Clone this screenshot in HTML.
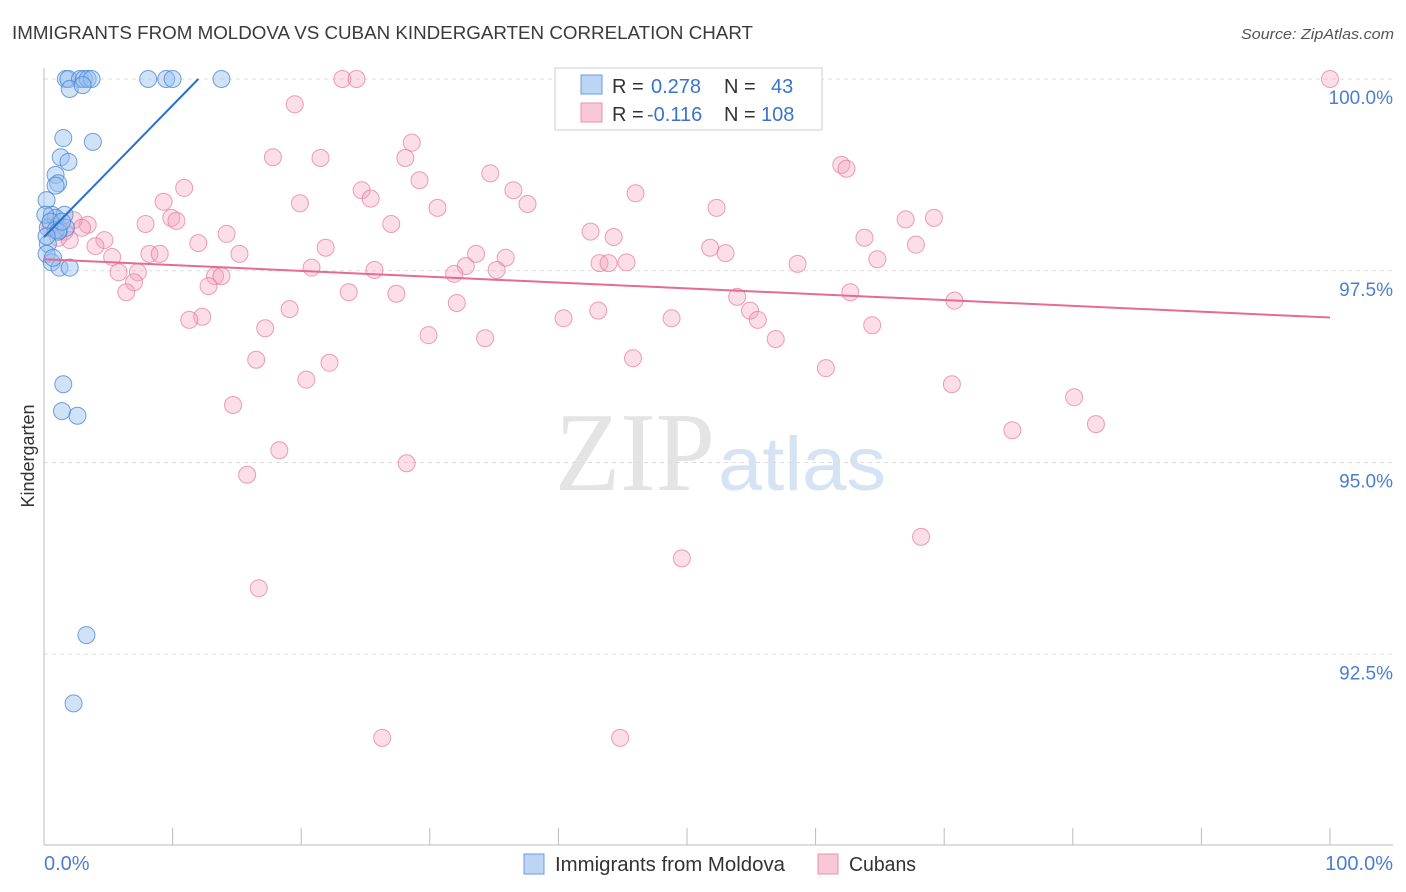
<!DOCTYPE html>
<html><head><meta charset="utf-8"><style>
body{margin:0;background:#fff;font-family:"Liberation Sans",sans-serif;}
svg{display:block}
</style></head><body>
<svg width="1406" height="892">
<text x="12" y="39" font-size="18" fill="#3a3a3a" textLength="741" lengthAdjust="spacingAndGlyphs">IMMIGRANTS FROM MOLDOVA VS CUBAN KINDERGARTEN CORRELATION CHART</text>
<text x="1394" y="39" font-size="15" fill="#555" font-style="italic" text-anchor="end" textLength="153" lengthAdjust="spacingAndGlyphs">Source: ZipAtlas.com</text>
<text x="555" y="490" font-size="112" fill="#e4e4e4" font-family="Liberation Serif,serif" textLength="160" lengthAdjust="spacingAndGlyphs">ZIP</text>
<text x="718" y="490" font-size="76" fill="#d5e3f5" textLength="168" lengthAdjust="spacingAndGlyphs">atlas</text>
<g id="grid"></g>
<g id="pts"></g>
<g id="lines"></g>
<text x="34" y="456" font-size="18" fill="#333" text-anchor="middle" transform="rotate(-90 34 456)">Kindergarten</text>
<text x="44" y="870" font-size="20" fill="#4a7fd0">0.0%</text>
<text x="1393" y="870" font-size="20" fill="#4a7fd0" text-anchor="end">100.0%</text>
<g>
<rect x="555" y="68" width="267" height="62" fill="#fff" stroke="#ccc"/>
<rect x="581" y="75" width="21" height="19" fill="#bcd5f5" stroke="#6b9be0"/>
<rect x="581" y="103" width="21" height="19" fill="#f8c8d6" stroke="#e890ad"/>
<text x="612" y="93" font-size="20" fill="#333">R = <tspan fill="#3a73cf" x="651">0.278</tspan><tspan x="724">N = </tspan><tspan fill="#3a73cf" x="771">43</tspan></text>
<text x="612" y="121" font-size="20" fill="#333">R = <tspan fill="#3a73cf" x="647">-0.116</tspan><tspan x="724">N = </tspan><tspan fill="#3a73cf" x="761">108</tspan></text>
</g>
<g>
<rect x="524" y="854" width="20" height="20" fill="#bcd5f5" stroke="#6b9be0"/>
<text x="555" y="871" font-size="20" fill="#333" textLength="230" lengthAdjust="spacingAndGlyphs">Immigrants from Moldova</text>
<rect x="818" y="854" width="20" height="20" fill="#f8c8d6" stroke="#e890ad"/>
<text x="849" y="871" font-size="20" fill="#333" textLength="67" lengthAdjust="spacingAndGlyphs">Cubans</text>
</g>
</svg>
<script>
const yTicks=[100,97.5,95,92.5];
const yTickLabels=["100.0%","97.5%","95.0%","92.5%"];
const xTicks=[0,10,20,30,40,50,60,70,80,90,100];
const blueX=[1.7,1.9,2.8,3.1,3.4,3.7,8.1,9.5,10,13.8,2,3,1.5,3.8,1.3,1.9,0.9,1.1,0.9,0.2,0.6,1.6,0.9,0.3,1.2,0.3,0.2,0.6,1.2,2,1.5,1.4,2.6,3.3,2.3,0.1,0.5,0.9,1.7,1.1,0.2,0.7,1.4];
const blueY=[100,100,100,100,100,100,100,100,100,100,99.87,99.92,99.23,99.18,98.98,98.92,98.75,98.64,98.61,98.42,98.23,98.23,98.19,98.06,98.03,97.85,97.72,97.61,97.54,97.54,96.02,95.67,95.61,92.75,91.86,98.23,98.14,98.03,98.06,98.01,97.95,97.67,98.14];
const pinkX=[23.2,24.3,100,19.5,28.6,17.8,21.5,28.1,62,62.4,34.7,29.2,10.9,24.7,36.5,46,25.4,19.9,9.3,37.6,30.6,52.3,9.9,10.3,67,69.2,7.9,27,3.4,2.3,2.95,42.5,14.2,44.3,12,4.7,4,21.9,51.8,67.8,63.8,53,8.2,9,15.2,33.6,35.9,64.8,43.2,43.9,45.3,32.8,20.8,58.6,35.2,5.8,7.3,25.7,31.9,13.3,13.8,7,12.8,6.4,23.7,27.4,53.9,62.7,70.8,32.1,19.1,43.1,54.9,40.4,48.8,55.5,12.3,11.3,64.4,17.2,29.9,34.3,56.9,45.8,16.5,22.2,60.8,20.4,70.6,80.1,14.7,75.3,81.8,18.3,28.2,15.8,68.2,49.6,16.7,26.3,44.8,0.5,1.6,1.1,2,5.3];
const pinkY=[100,100,100,99.67,99.17,98.98,98.97,98.97,98.88,98.83,98.77,98.68,98.58,98.55,98.55,98.51,98.44,98.38,98.40,98.37,98.32,98.32,98.19,98.15,98.17,98.19,98.11,98.11,98.10,98.16,98.06,98.01,97.98,97.94,97.86,97.90,97.82,97.80,97.80,97.84,97.93,97.73,97.72,97.72,97.72,97.72,97.67,97.65,97.60,97.60,97.61,97.56,97.54,97.59,97.51,97.48,97.48,97.51,97.46,97.43,97.43,97.35,97.30,97.22,97.22,97.20,97.16,97.22,97.11,97.08,97.00,96.98,96.98,96.88,96.88,96.86,96.90,96.86,96.79,96.75,96.66,96.62,96.61,96.36,96.34,96.30,96.23,96.08,96.02,95.85,95.75,95.42,95.50,95.16,94.99,94.84,94.03,93.75,93.36,91.41,91.41,98.08,98.01,97.93,97.90,97.68];
const blueLine=[0,97.94,12,100];
const pinkLine=[0,97.65,100,96.89];
const NS="http://www.w3.org/2000/svg";
function sx(v){return 44+v*12.86;}
function sy(v){return 79+(100-v)*76.7;}
const grid=document.getElementById('grid');
function mk(tag,attrs,parent){const e=document.createElementNS(NS,tag);for(const k in attrs)e.setAttribute(k,attrs[k]);parent.appendChild(e);return e;}
yTicks.forEach((t,i)=>{
 const l=mk('line',{x1:44,x2:1393,y1:sy(t),y2:sy(t),stroke:'#ddd','stroke-dasharray':'4,4'},grid);
 
 
 const tx=mk('text',{x:1393,y:sy(t)+25,'font-size':19,fill:'#4a7fd0','text-anchor':'end'},grid);
 tx.textContent=yTickLabels[i];
 
 
});
const ax=mk('line',{x1:44,x2:44,y1:68,y2:845,stroke:'#bbb'},grid);


const bx=mk('line',{x1:44,x2:1393,y1:845,y2:845,stroke:'#bbb'},grid);


xTicks.forEach(t=>{
 const l=mk('line',{x1:sx(t),x2:sx(t),y1:828,y2:845,stroke:'#bbb'},grid);
 
 
});
const pts=document.getElementById('pts');
pinkX.forEach((x,i)=>{
 const c=mk('circle',{cx:sx(x),cy:sy(pinkY[i]),r:8.5,fill:'rgba(244,160,186,0.35)',stroke:'rgba(230,120,155,0.7)','stroke-width':1},pts);
 
 
});
blueX.forEach((x,i)=>{
 const c=mk('circle',{cx:sx(x),cy:sy(blueY[i]),r:8.5,fill:'rgba(150,190,240,0.45)',stroke:'rgba(70,130,210,0.75)','stroke-width':1},pts);
 
 
});
const lines=document.getElementById('lines');
const bl=mk('line',{x1:sx(blueLine[0]),y1:sy(blueLine[1]),x2:sx(blueLine[2]),y2:sy(blueLine[3]),stroke:'#2a6fd0','stroke-width':2},lines);


const pl=mk('line',{x1:sx(pinkLine[0]),y1:sy(pinkLine[1]),x2:sx(pinkLine[2]),y2:sy(pinkLine[3]),stroke:'#e56a94','stroke-width':2},lines);


</script>
</body></html>
